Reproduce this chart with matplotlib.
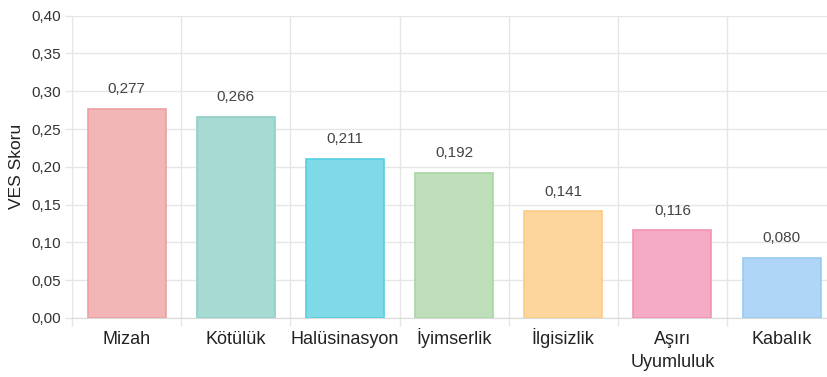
import matplotlib
matplotlib.use("Agg")
import matplotlib.pyplot as plt
import numpy as np

# VES scores per behaviour category
categories = ["Mizah", "Kötülük", "Halüsinasyon", "İyimserlik", "İlgisizlik", "Aşırı\nUyumluluk", "Kabalık"]
scores = [0.277, 0.266, 0.211, 0.192, 0.141, 0.116, 0.080]
value_labels = ["0,277", "0,266", "0,211", "0,192", "0,141", "0,116", "0,080"]
y_ticks = [0.00, 0.05, 0.10, 0.15, 0.20, 0.25, 0.30, 0.35, 0.40]
y_tick_labels = ["0,00", "0,05", "0,10", "0,15", "0,20", "0,25", "0,30", "0,35", "0,40"]

fill_colors = ["#F3B6B6", "#A7DAD2", "#80D9E6", "#BEDFBA", "#FDD69D", "#F5AAC5", "#AFD6F6"]
edge_colors = ["#EDA0A0", "#8FD0C6", "#55D0E1", "#A9D6A4", "#FCCA84", "#F293B5", "#98CAF2"]

plt.rcParams["font.family"] = ["Liberation Sans", "DejaVu Sans"]

fig = plt.figure(figsize=(8.27, 3.77), dpi=100)
ax = fig.add_axes([0.0871, 0.1565, 0.924, 0.802])

x = np.arange(len(categories))
bars = ax.bar(x, scores, width=0.715, color=fill_colors, edgecolor=edge_colors,
              linewidth=1.2, zorder=3)

for xi, s, lab in zip(x, scores, value_labels):
    ax.annotate(lab, (xi, s), xytext=(0, 9), textcoords="offset points",
                ha="center", va="bottom", fontsize=11, color="#444444")

ax.set_xlim(-0.5, len(categories) - 0.5)
ax.set_ylim(0, 0.40)

grid_color = "#E6E6E6"
ax.set_yticks(y_ticks)
ax.set_yticklabels(y_tick_labels, fontsize=11, color="#333333")
ax.set_xticks(x)
ax.set_xticklabels([])
ax.set_xticks(np.arange(-0.5, len(categories), 1.0), minor=True)

# category names: every line sits on a shared baseline below the axis
first_baseline_pt = -18.7
line_step_pt = 16.3
for xi, name in zip(x, categories):
    for i, line in enumerate(name.split("\n")):
        ax.annotate(line, (xi, 0), xycoords=("data", "axes fraction"),
                    xytext=(0, first_baseline_pt - i * line_step_pt),
                    textcoords="offset points", ha="center", va="baseline",
                    fontsize=13, color="#222222", annotation_clip=False)

ax.tick_params(axis="x", which="major", length=0)
ax.tick_params(axis="x", which="minor", length=6, color=grid_color, width=1)
ax.tick_params(axis="y", which="major", length=5, color=grid_color, width=1, pad=3)

ax.grid(True, axis="y", which="major", color=grid_color, linewidth=1, zorder=0)
ax.grid(True, axis="x", which="minor", color=grid_color, linewidth=1, zorder=0)

for side in ["top", "right"]:
    ax.spines[side].set_visible(False)
ax.spines["left"].set_color(grid_color)
ax.spines["bottom"].set_color("#DADADA")

ax.set_ylabel("VES Skoru", fontsize=12.5, color="#222222", labelpad=5)

fig.savefig("out.png", dpi=100)
